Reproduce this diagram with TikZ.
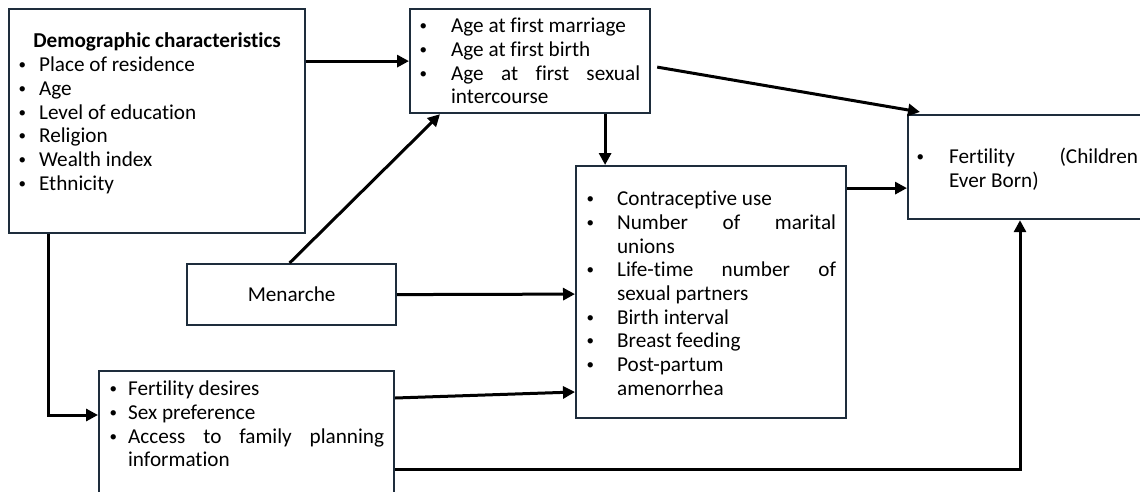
\documentclass[tikz,border=0pt]{standalone}
\usepackage{fontspec}
\setmainfont[Ligatures=NoCommon]{Carlito}
\usepackage{enumitem}
\usetikzlibrary{arrows.meta}
\setlist[itemize]{label=\raisebox{0.2ex}{\fontsize{7.5}{7.5}\selectfont\textbullet},
  topsep=0pt, itemsep=0pt, parsep=0pt, partopsep=0pt}
\hyphenpenalty=10000
\exhyphenpenalty=10000
\definecolor{boxline}{RGB}{30,45,60}
% width, height, top gap, body
\newcommand{\boxtxt}[4]{%
  \begin{minipage}[t][#2][t]{#1}\hrule height0pt width#1\relax\vspace*{#3}#4\end{minipage}}

\begin{document}
\begin{tikzpicture}[x=0.5pt, y=-0.5pt,
    box/.style={draw=boxline, line width=1.1pt, inner sep=0pt, anchor=north west,
      font=\fontsize{10.6}{11.85}\selectfont},
    arr/.style={line width=1.5pt, -{Triangle[length=6pt, width=6pt]}}]
    \useasboundingbox (0,0) rectangle (1140,492);
    \clip (0,0) rectangle (1140,492);

    % Demographic characteristics
    \node[box] (demo) at (8,8) {\boxtxt{148pt}{112pt}{12pt}{%
        {\centering\bfseries Demographic characteristics\par}
        \begin{itemize}[leftmargin=15pt, labelsep=6.5pt]
            \item Place of residence
            \item Age
            \item Level of education
            \item Religion
            \item Wealth index
            \item Ethnicity
        \end{itemize}}};

    % Ages at first events
    \node[box] (ages) at (409,8) {\boxtxt{120pt}{52pt}{4.5pt}{%
        \begin{itemize}[leftmargin=20.5pt, labelsep=12pt, rightmargin=5pt]
            \item Age at first marriage
            \item Age at first birth
            \item Age at first sexual\linebreak intercourse
        \end{itemize}}};

    % Outcome
    \node[box] (fert) at (907,114) {\boxtxt{120pt}{52pt}{16.5pt}{%
        \begin{itemize}[leftmargin=20.5pt, labelsep=12.5pt, rightmargin=5pt]
            \item Fertility (Children\linebreak Ever Born)
        \end{itemize}}};

    % Proximate determinants
    \node[box] (ctx) at (575,165) {\boxtxt{135pt}{126pt}{12.5pt}{%
        \begin{itemize}[leftmargin=20.5pt, labelsep=11.5pt, rightmargin=5pt]
            \item Contraceptive use
            \item Number of marital\linebreak unions
            \item Life-time number of\linebreak sexual partners
            \item Birth interval
            \item Breast feeding
            \item Post-partum\newline amenorrhea
        \end{itemize}}};

    % Menarche
    \node[box, minimum width=104.5pt, minimum height=30.5pt] (menarche) at (186,263) {Menarche};

    % Desires
    \node[box] (desire) at (98,370) {\boxtxt{147.5pt}{70pt}{5pt}{%
        \begin{itemize}[leftmargin=14.5pt, labelsep=5.5pt, rightmargin=5pt]
            \item Fertility desires
            \item Sex preference
            \item Access to family planning\linebreak information
        \end{itemize}}};

    % Connections
    \coordinate (fertin) at ([yshift=-10.5pt]fert.west);
    \draw[arr] (demo.east |- ages.west) -- (ages.west);
    \draw[arr] ([xshift=3pt, yshift=-3pt]ages.east) -- ([xshift=6.5pt, yshift=1pt]fert.north west);
    \draw[arr] ([xshift=37.5pt]ages.south) -- ([xshift=37.5pt]ages.south |- ctx.north);
    \draw[arr] (ctx.east |- fertin) -- (fertin);
    \draw[arr] ([xshift=20pt]demo.south west) |- ([yshift=-22.5pt]desire.north west);
    \draw[arr] ([xshift=-1pt]menarche.north) -- ([xshift=15.5pt]ages.south west);
    \draw[arr] (menarche.east) -- ([yshift=-1pt]ctx.west);
    \draw[arr] ([yshift=-14pt]desire.north east) -- ([yshift=-113.5pt]ctx.north west);
    \draw[arr] ([yshift=-49.5pt]desire.north east) -| ([xshift=56.5pt]fert.south west);
\end{tikzpicture}
\end{document}
